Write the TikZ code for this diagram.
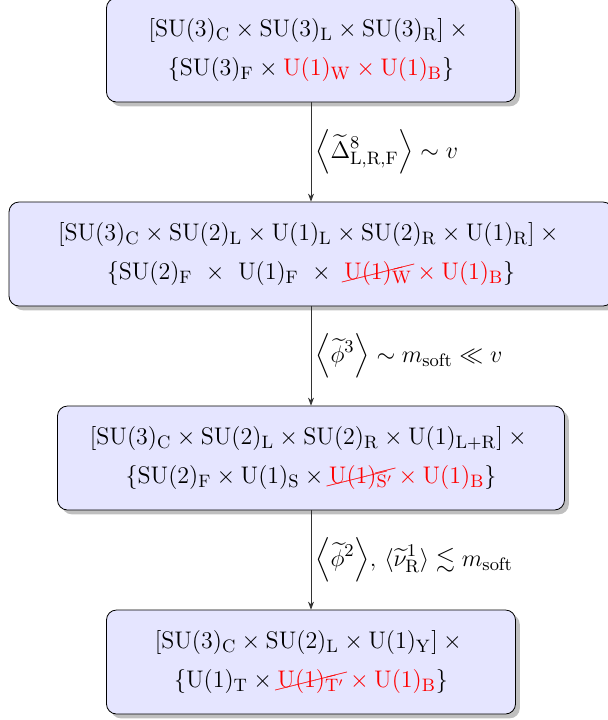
\documentclass[tikz,border=0pt]{standalone}
\usepackage{amsmath,amssymb}
\usepackage{cancel}
\usetikzlibrary{shadows,arrows.meta}
\renewcommand{\CancelColor}{\color{red}}
\newcommand{\gr}[1]{\mathrm{#1}}
\newcommand{\bigfont}{\fontsize{12.4}{15}\selectfont}
\tikzset{
  boxnode/.style={draw=black, fill=blue!10, rounded corners=5pt, drop shadow,
    align=center, font=\bigfont, minimum height=52pt, inner sep=4pt},
  arr/.style={draw=black!80, -{Stealth[length=4pt,width=3pt]}},
  lab/.style={anchor=west, font=\bigfont, inner sep=2pt}
}
\begin{document}
\begin{tikzpicture}[x=0.5pt,y=-0.5pt]
\useasboundingbox (0,0) rectangle (608,720);
\node[boxnode, minimum width=204.5pt] (b1) at (311,50)
  {$[\gr{SU}(3)_{\gr{C}}\times\gr{SU}(3)_{\gr{L}}\times\gr{SU}(3)_{\gr{R}}]\mathbin{\times}{}$\\[4.5pt]
   $\{\gr{SU}(3)_{\gr{F}}\times{\color{red}\gr{U}(1)_{\gr{W}}\times\gr{U}(1)_{\gr{B}}}\}$};
\node[boxnode, minimum width=302pt] (b2) at (311,254)
  {$[\gr{SU}(3)_{\gr{C}}\times\gr{SU}(2)_{\gr{L}}\times\gr{U}(1)_{\gr{L}}\times\gr{SU}(2)_{\gr{R}}\times\gr{U}(1)_{\gr{R}}]\mathbin{\times}{}$\\[4.5pt]
   $\{\gr{SU}(2)_{\gr{F}}\ \times\ \gr{U}(1)_{\gr{F}}\ \times\ {\color{red}\cancel{\gr{U}(1)_{\gr{W}}}\times\gr{U}(1)_{\gr{B}}}\}$};
\node[boxnode, minimum width=253.5pt] (b3) at (311,458)
  {$[\gr{SU}(3)_{\gr{C}}\times\gr{SU}(2)_{\gr{L}}\times\gr{SU}(2)_{\gr{R}}\times\gr{U}(1)_{\gr{L+R}}]\mathbin{\times}{}$\\[4.5pt]
   $\{\gr{SU}(2)_{\gr{F}}\times\gr{U}(1)_{\gr{S}}\times{\color{red}\cancel{\gr{U}(1)_{\gr{S'}}}\times\gr{U}(1)_{\gr{B}}}\}$};
\node[boxnode, minimum width=204.5pt] (b4) at (311,662)
  {$[\gr{SU}(3)_{\gr{C}}\times\gr{SU}(2)_{\gr{L}}\times\gr{U}(1)_{\gr{Y}}]\mathbin{\times}{}$\\[4.5pt]
   $\{\gr{U}(1)_{\gr{T}}\times{\color{red}\cancel{\gr{U}(1)_{\gr{T'}}}\times\gr{U}(1)_{\gr{B}}}\}$};
\draw[arr] (b1.south) -- (b2.north)
  node[lab, midway] (l1) {$\displaystyle\left\langle\widetilde{\Delta}^{8}_{\gr{L,R,F}}\right\rangle\sim v$};
\draw[arr] (b2.south) -- (b3.north)
  node[lab, midway] (l2) {$\displaystyle\left\langle\widetilde{\phi}^{3}\right\rangle\sim m_{\gr{soft}}\ll v$};
\draw[arr] (b3.south) -- (b4.north)
  node[lab, midway] (l3) {$\displaystyle{\left\langle\widetilde{\phi}^{2}\right\rangle},\,\langle\widetilde{\nu}^{1}_{\gr{R}}\rangle\lesssim m_{\gr{soft}}$};
\end{tikzpicture}
\end{document}
